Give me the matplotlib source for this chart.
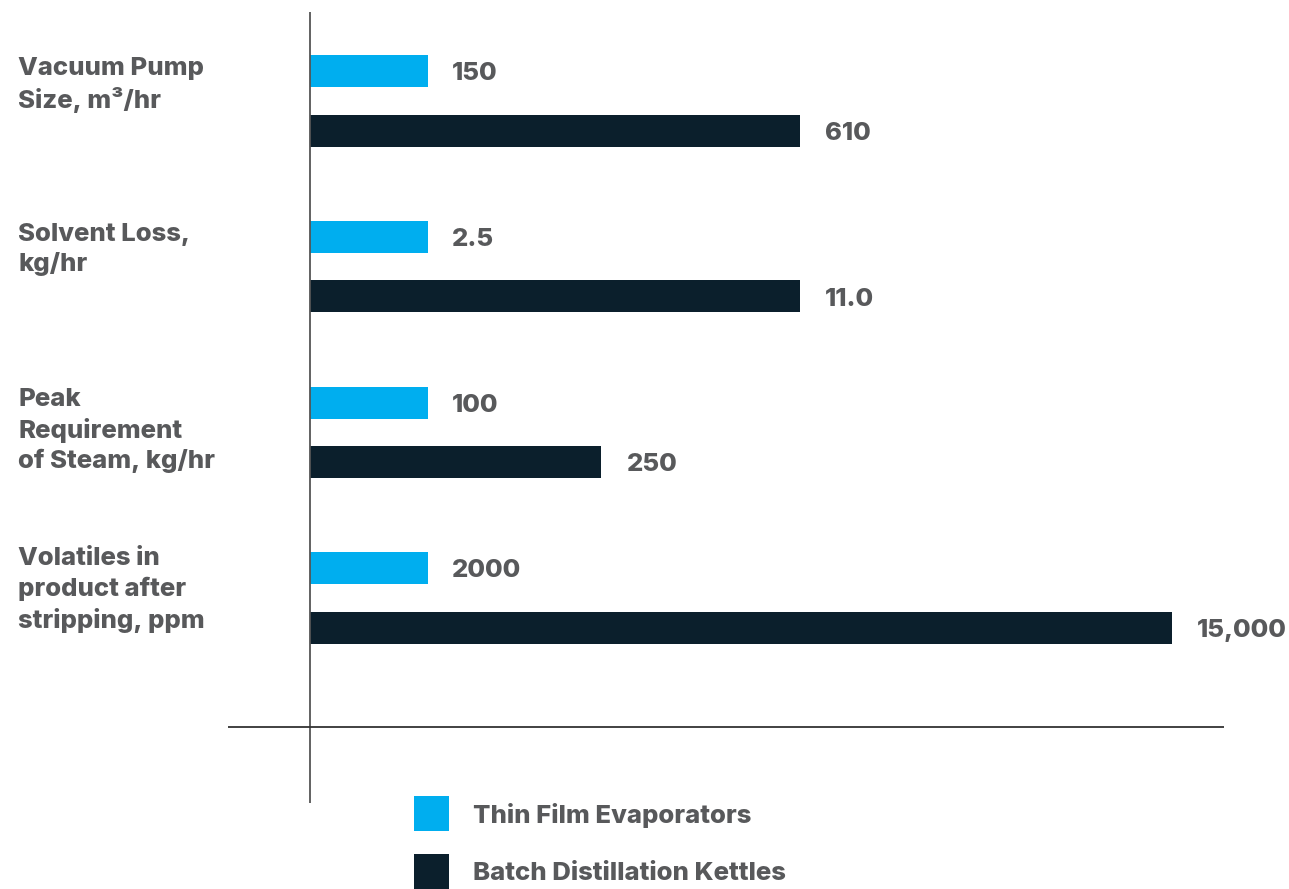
import matplotlib.pyplot as plt
import matplotlib.transforms as mtransforms
from matplotlib.patches import Rectangle

# categories and display values
categories = ['Vacuum Pump\nSize, m\u00b3/hr',
              'Solvent Loss,\nkg/hr',
              'Peak\nRequirement\nof Steam, kg/hr',
              'Volatiles in\nproduct after\nstripping, ppm']
series = ['Thin Film Evaporators', 'Batch Distillation Kettles']
tfe_labels = ['150', '2.5', '100', '2000']
bdk_labels = ['610', '11.0', '250', '15,000']
# bar lengths as drawn in the graphic (relative, not to scale with values)
tfe_length = [0.137, 0.137, 0.137, 0.137]
bdk_length = [0.568, 0.568, 0.338, 1.0]

blue = '#00aeef'
navy = '#0b1f2c'
grey = '#58595b'
plt.rcParams['font.family'] = ['Inter', 'DejaVu Sans']
W = 'heavy'
FS = 18.5

fig = plt.figure(figsize=(12.89, 8.89), dpi=100)
ax = fig.add_axes([228 / 1289, 1 - 803 / 889, (1224 - 228) / 1289, (803 - 12) / 889])

pos = list(range(len(categories)))
off = 0.18
h = 0.193
ax.barh([p - off for p in pos], tfe_length, height=h, color=blue)
ax.barh([p + off for p in pos], bdk_length, height=h, color=navy)

# value labels
for p, L, s in zip(pos, tfe_length, tfe_labels):
    ax.annotate(s, (L, p - off), xytext=(17, -2), textcoords='offset points',
                va='center', ha='left', fontsize=FS, color=grey, fontweight=W)
for p, L, s in zip(pos, bdk_length, bdk_labels):
    ax.annotate(s, (L, p + off), xytext=(18, -2), textcoords='offset points',
                va='center', ha='left', fontsize=FS, color=grey, fontweight=W)

# category labels on the left
trans = mtransforms.blended_transform_factory(fig.transFigure, ax.transData)
for p, c in zip(pos, categories):
    ax.text(18 / 1289, p - off - h / 2 + 0.01 - (0.04 if p == 3 else 0.0), c,
            transform=trans, ha='left', va='top',
            fontsize=FS, color=grey, fontweight=W, linespacing=1.33)

ax.set_xlim(-0.095, 1.060)
ax.set_ylim(4.237, -0.537)
ax.axvline(0, color='#555555', lw=1.3)
ax.axhline(3.778, color='#333333', lw=1.3)
for sp in ax.spines.values():
    sp.set_visible(False)
ax.set_xticks([])
ax.set_yticks([])

# legend
for i, (name, col) in enumerate(zip(series, [blue, navy])):
    y0 = 889 - 831 - i * 58
    fig.add_artist(Rectangle((414 / 1289, y0 / 889), 35 / 1289, 35 / 889,
                             transform=fig.transFigure, color=col, lw=0))
    fig.text(473 / 1289, (y0 + 15) / 889, name, ha='left', va='center',
             fontsize=FS, color=grey, fontweight=W)

plt.savefig('out.png', dpi=100)
